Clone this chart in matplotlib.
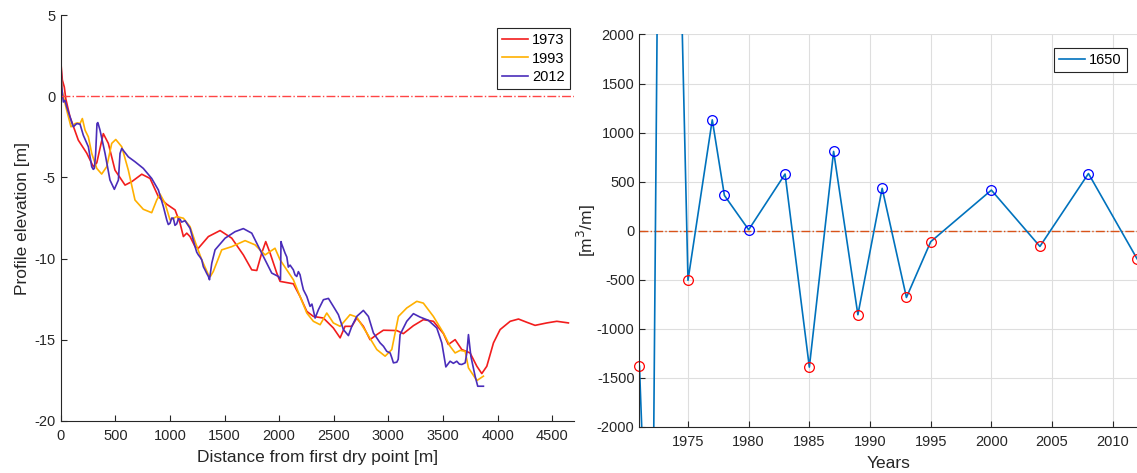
import matplotlib
matplotlib.use("Agg")
import matplotlib.pyplot as plt
import numpy as np

plt.rcParams['font.family'] = ['Liberation Sans', 'DejaVu Sans']
plt.rcParams['axes.unicode_minus'] = False

# --- left panel: cross-shore profiles ---
d1973 = [0, 15, 33, 46, 85, 161, 238, 299, 330, 390, 436, 497, 589, 650, 742, 818, 894, 971,
         1047, 1092, 1123, 1154, 1184, 1230, 1260, 1352, 1459, 1566, 1672, 1749, 1795, 1840,
         1877, 1917, 1978, 2008, 2130, 2191, 2253, 2313, 2405, 2496, 2558, 2603, 2665, 2710,
         2771, 2832, 2894, 2954, 3077, 3137, 3229, 3320, 3412, 3504, 3549, 3611, 3672, 3748,
         3810, 3855, 3901, 3962, 4023, 4115, 4191, 4267, 4343, 4451, 4542, 4648]
e1973 = [2.2, 1.0, 0.57, -0.14, -1.27, -2.7, -3.5, -4.34, -4.1, -2.3, -2.9, -4.55, -5.47, -5.26,
         -4.8, -5.06, -6.18, -6.65, -7.0, -7.8, -8.64, -8.43, -8.64, -9.26, -9.36, -8.64, -8.27,
         -8.74, -9.77, -10.69, -10.73, -9.66, -8.95, -9.66, -10.89, -11.4, -11.55, -12.33,
         -13.25, -13.56, -13.66, -14.27, -14.88, -14.17, -14.17, -13.66, -14.17, -14.99, -14.68,
         -14.41, -14.43, -14.62, -14.13, -13.76, -13.86, -14.62, -15.29, -14.99, -15.6, -15.81,
         -16.63, -17.08, -16.63, -15.19, -14.37, -13.86, -13.72, -13.92, -14.11, -13.96, -13.86,
         -13.96]

d1993 = [0, 15, 55, 94, 131, 156, 177, 198, 223, 253, 284, 330, 375, 421, 467, 504, 559, 619,
         680, 756, 833, 879, 909, 955, 1001, 1062, 1123, 1184, 1230, 1291, 1352, 1370, 1397,
         1474, 1566, 1688, 1779, 1871, 1962, 2008, 2130, 2191, 2253, 2313, 2375, 2436, 2496,
         2558, 2649, 2710, 2802, 2894, 2970, 3031, 3092, 3168, 3260, 3320, 3412, 3504, 3565,
         3611, 3657, 3703, 3733, 3810, 3870]
e1993 = [1.6, 0.26, -0.86, -1.88, -1.68, -1.64, -1.68, -1.37, -2.09, -2.5, -3.52, -4.44, -4.79,
         -4.34, -2.9, -2.66, -3.11, -4.55, -6.39, -6.96, -7.17, -6.39, -6.02, -6.59, -7.62,
         -7.41, -7.51, -8.03, -8.95, -10.07, -10.99, -11.1, -10.79, -9.46, -9.26, -8.89, -9.15,
         -9.77, -9.36, -10.07, -11.3, -12.33, -13.35, -13.86, -14.07, -13.35, -13.96, -14.17,
         -13.45, -13.6, -14.58, -15.6, -16.01, -15.6, -13.56, -13.04, -12.63, -12.74, -13.56,
         -14.58, -15.4, -15.81, -15.65, -15.71, -16.73, -17.51, -17.24]

d2012 = [0, 0, 9, 24, 39, 55, 85, 115, 147, 177, 207, 253, 284, 298, 308, 320, 332, 340, 360,
         406, 451, 491, 528, 543, 559, 619, 680, 756, 833, 894, 940, 971, 985, 1001, 1016, 1031,
         1046, 1062, 1077, 1092, 1107, 1138, 1184, 1230, 1245, 1260, 1275, 1291, 1306, 1321,
         1336, 1352, 1362, 1383, 1413, 1505, 1596, 1672, 1749, 1840, 1932, 1993, 2012, 2017,
         2023, 2054, 2070, 2084, 2100, 2130, 2145, 2161, 2176, 2191, 2207, 2222, 2253, 2283,
         2300, 2329, 2359, 2405, 2451, 2496, 2542, 2588, 2634, 2665, 2710, 2771, 2817, 2863,
         2895, 2924, 2955, 2985, 3016, 3031, 3046, 3077, 3090, 3107, 3168, 3229, 3290, 3366,
         3443, 3489, 3526, 3565, 3595, 3626, 3650, 3672, 3703, 3718, 3733, 3755, 3794, 3818,
         3870]
e2012 = [4.47, 2.6, 0.57, -0.35, -0.25, -0.66, -1.27, -1.88, -1.68, -1.72, -2.4, -3.11, -4.34,
         -4.5, -4.44, -3.52, -1.68, -1.62, -2.09, -3.52, -5.16, -5.73, -5.16, -3.52, -3.21,
         -3.73, -4.03, -4.44, -5.06, -5.77, -6.8, -7.62, -7.9, -7.82, -7.5, -7.51, -7.95, -7.86,
         -7.55, -7.57, -7.75, -7.66, -8.13, -9.26, -9.6, -9.77, -9.9, -10.07, -10.5, -10.69,
         -10.9, -11.1, -11.3, -10.28, -9.46, -8.74, -8.34, -8.15, -8.43, -9.66, -10.89, -11.1,
         -11.3, -8.95, -9.1, -9.66, -9.9, -10.52, -10.4, -10.69, -11.0, -11.1, -10.8, -10.99,
         -11.5, -11.92, -12.33, -12.94, -12.8, -13.66, -13.15, -12.53, -12.45, -12.94, -13.45,
         -14.37, -14.74, -14.17, -13.56, -13.19, -13.56, -14.58, -14.9, -15.19, -15.4, -15.71,
         -15.81, -16.1, -16.42, -16.38, -16.2, -14.68, -13.86, -13.39, -13.6, -13.8, -14.27,
         -15.19, -16.67, -16.32, -16.45, -16.32, -16.5, -16.52, -16.42, -15.81, -14.68, -16.01,
         -17.24, -17.86, -17.86]

# --- right panel: volume change ---
years = [1971, 1972, 1973, 1975, 1977, 1978, 1980, 1983, 1985, 1987, 1989, 1991, 1993, 1995,
         2000, 2004, 2008, 2012]
volume = [-1380, -4700, 10200, -505, 1130, 360, 10, 578, -1390, 808, -856, 432, -680, -112,
          414, -160, 583, -285]

txt = '#262626'
fig = plt.figure(figsize=(11.37, 4.73), dpi=100)

ax1 = fig.add_axes([0.0534, 0.110, 0.4515, 0.858])
ax1.plot(d1973, e1973, color='#F21D1D', lw=1.2, label='1973')
ax1.plot(d1993, e1993, color='#FFB000', lw=1.2, label='1993')
ax1.plot(d2012, e2012, color='#4A2DBA', lw=1.2, label='2012')
ax1.axhline(0, color='#FF4545', ls='-.', lw=1.0)
ax1.set_xlim(0, 4700)
ax1.set_ylim(-20, 5)
ax1.set_xticks(np.arange(0, 4501, 500))
ax1.set_yticks(np.arange(-20, 6, 5))
ax1.set_xlabel('Distance from first dry point [m]', fontsize=12.5, color=txt, labelpad=5)
ax1.set_ylabel('Profile elevation [m]', fontsize=12.5, color=txt, labelpad=3)
leg1 = ax1.legend(loc='upper right', fontsize=10.5, fancybox=False, framealpha=1,
                  edgecolor=txt, borderpad=0.35, handlelength=1.8, handletextpad=0.3,
                  labelspacing=0.3, borderaxespad=0, bbox_to_anchor=(0.992, 0.968))
leg1.get_frame().set_linewidth(0.8)

ax2 = fig.add_axes([0.5624, 0.0973, 0.4376, 0.8298])
ax2.grid(True, color='#DEDEDE', lw=0.8)
ax2.set_axisbelow(True)
ax2.axhline(0, color='#D95319', ls='-.', lw=1.0)
ax2.plot(years, volume, color='#0072BD', lw=1.2, label='1650')
vis = [(y, v) for y, v in zip(years, volume) if abs(v) <= 2000]
pos = [(y, v) for y, v in vis if v >= 0]
neg = [(y, v) for y, v in vis if v < 0]
ax2.plot([p[0] for p in pos], [p[1] for p in pos], 'o', mfc='none', mec='#0000FF',
         ms=7, mew=0.9, clip_on=False)
ax2.plot([p[0] for p in neg], [p[1] for p in neg], 'o', mfc='none', mec='#FF0000',
         ms=7, mew=0.9, clip_on=False)
ax2.set_xlim(1971, 2012)
ax2.set_ylim(-2000, 2000)
ax2.set_xticks(np.arange(1975, 2011, 5))
ax2.set_yticks(np.arange(-2000, 2001, 500))
ax2.set_xlabel('Years', fontsize=12.5, color=txt, labelpad=5)
ax2.set_ylabel('[m$^3$/m]', fontsize=12.5, color=txt, labelpad=-1)
leg2 = ax2.legend(loc='upper right', fontsize=10.5, fancybox=False, framealpha=1,
                  edgecolor=txt, borderpad=0.35, handlelength=1.8, handletextpad=0.3,
                  borderaxespad=0, bbox_to_anchor=(0.98, 0.966))
leg2.get_frame().set_linewidth(0.8)

for ax in (ax1, ax2):
    for s in ('top', 'right'):
        ax.spines[s].set_visible(False)
    for s in ('left', 'bottom'):
        ax.spines[s].set_color(txt)
        ax.spines[s].set_linewidth(0.8)
    ax.tick_params(direction='in', length=4, width=0.8, colors=txt, labelsize=10.5)
    ax.tick_params(axis='x', pad=6)

fig.savefig('out.png', dpi=100)
